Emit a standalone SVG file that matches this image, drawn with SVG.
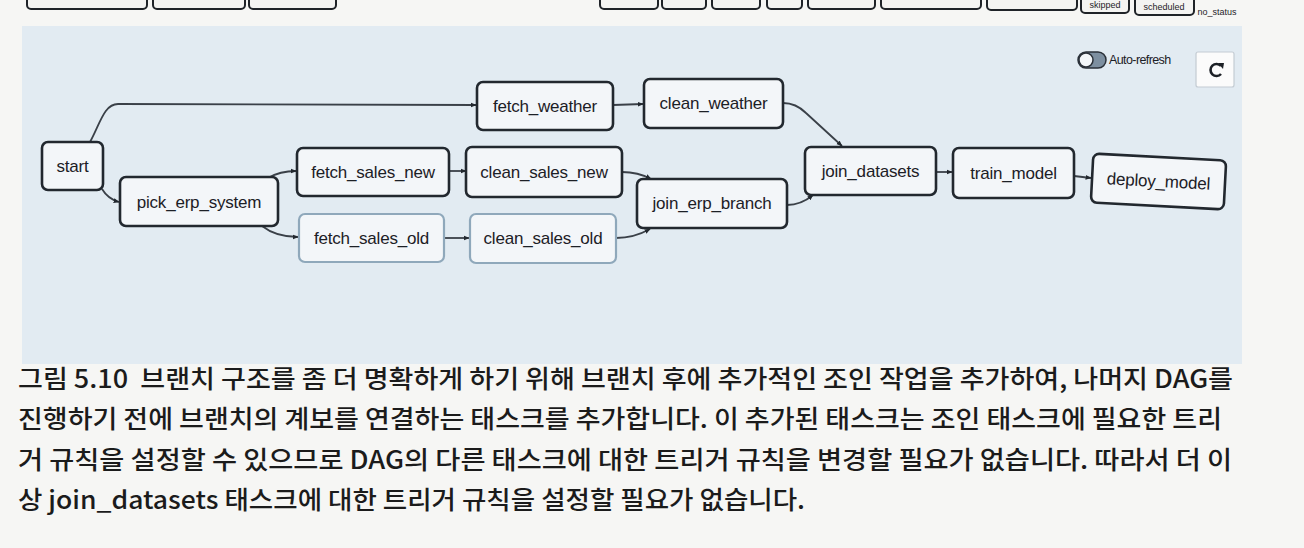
<svg xmlns="http://www.w3.org/2000/svg" width="1304" height="548" viewBox="0 0 1304 548">
  <defs>
    <style>
      .node rect { fill: #f3f6f9; stroke: #22282f; stroke-width: 2.6; }
      .node.light rect { stroke: #8fa8bb; stroke-width: 2.2; }
      .node text { font-family: "Liberation Sans", Arial, sans-serif; font-size: 17px; fill: #1c2026; text-anchor: middle; dominant-baseline: central; letter-spacing: -0.2px; }
      .edge { fill: none; stroke: #3a4048; stroke-width: 1.8; marker-end: url(#arrow); }
      .legend rect { fill: #f4f4f2; stroke: #1f2328; stroke-width: 2; }
      .legend text { font-family: "Liberation Sans", Arial, sans-serif; font-size: 9px; fill: #1f2328; text-anchor: middle; }
      .caption { font-family: "Noto Sans CJK KR", "Noto Sans", sans-serif; font-size: 25px; font-weight: 500; fill: #1b1b1b; }
    </style>
    <marker id="arrow" viewBox="0 0 10 10" refX="9" refY="5" markerWidth="6" markerHeight="6" markerUnits="userSpaceOnUse" orient="auto">
      <path d="M0,1 L10,5 L0,9 z" fill="#22282f"/>
    </marker>
  </defs>

  <rect x="0" y="0" width="1304" height="548" fill="#f6f6f4"/>

  <!-- top legend strip (cut off) -->
  <g id="legend" class="legend">
    <rect x="27" y="-12" width="120" height="21" rx="4"/>
    <rect x="153" y="-12" width="92" height="21" rx="4"/>
    <rect x="249" y="-12" width="87" height="21" rx="4"/>
    <rect x="600" y="-12" width="58" height="21" rx="4"/>
    <rect x="662" y="-12" width="44" height="21" rx="4"/>
    <rect x="712" y="-12" width="48" height="21" rx="4"/>
    <rect x="767" y="-12" width="35" height="21" rx="4"/>
    <rect x="808" y="-12" width="67" height="21" rx="4"/>
    <rect x="881" y="-12" width="100" height="21" rx="4"/>
    <rect x="987" y="-12" width="90" height="22" rx="4"/>
    <rect x="1081" y="-12" width="48" height="25" rx="4"/>
    <text x="1105" y="8">skipped</text>
    <rect x="1135" y="-12" width="59" height="27" rx="4"/>
    <text x="1164" y="10">scheduled</text>
    <text x="1217" y="15">no_status</text>
  </g>

  <!-- graph panel -->
  <rect id="panel" x="22" y="26" width="1220" height="338" fill="#e2ebf2"/>

  <!-- toolbar -->
  <g id="auto-refresh">
    <rect x="1078" y="52" width="28" height="16" rx="8" fill="#7d8fa0" stroke="#2a3038" stroke-width="1.5"/>
    <circle cx="1086" cy="60" r="7" fill="#f3f6f9" stroke="#2a3038" stroke-width="1.5"/>
    <text x="1109" y="64" font-family="Liberation Sans, Arial, sans-serif" font-size="12.5" letter-spacing="-0.6" fill="#1c2026">Auto-refresh</text>
  </g>
  <g id="refresh-button">
    <rect x="1196" y="52" width="38" height="35" rx="2" fill="#fbfbfb" stroke="#c4ccd3" stroke-width="1.2"/>
    <path d="M1221 66 A 6 6 0 1 0 1221 74" fill="none" stroke="#1c2026" stroke-width="2.6"/>
    <path d="M1218 63 L1224 63 L1223 69 z" fill="#1c2026"/>
  </g>

  <!-- connectors -->
  <g id="connectors">
    <path class="edge" d="M90 142 C 100 124, 104 104, 118 104 L 476 105"/>
    <path class="edge" d="M102 189 Q 108 199 119 202"/>
    <path class="edge" d="M268 178 Q 280 171 296 171"/>
    <path class="edge" d="M262 226 Q 276 237 298 237"/>
    <path class="edge" d="M449 171 L 466 171"/>
    <path class="edge" d="M444 238 L 469 238"/>
    <path class="edge" d="M613 105 L 643 104"/>
    <path class="edge" d="M783 103 Q 796 103 806 113 L 842 146"/>
    <path class="edge" d="M622 172 Q 638 172 651 179"/>
    <path class="edge" d="M616 238 Q 634 238 650 229"/>
    <path class="edge" d="M787 205 Q 801 205 813 195"/>
    <path class="edge" d="M936 172 L 952 172"/>
    <path class="edge" d="M1074 176 L 1091 178"/>
  </g>

  <!-- nodes -->
  <g id="start" class="node"><rect x="42" y="142" width="61" height="48" rx="6"/><text x="72.5" y="166">start</text></g>
  <g id="pick_erp_system" class="node"><rect x="120" y="177" width="158" height="49" rx="6"/><text x="199" y="202">pick_erp_system</text></g>
  <g id="fetch_sales_new" class="node"><rect x="297" y="148" width="152" height="48" rx="6"/><text x="373" y="172">fetch_sales_new</text></g>
  <g id="fetch_sales_old" class="node light"><rect x="299" y="214" width="145" height="48" rx="6"/><text x="371.5" y="238">fetch_sales_old</text></g>
  <g id="fetch_weather" class="node"><rect x="477" y="82" width="136" height="48" rx="6"/><text x="545" y="106">fetch_weather</text></g>
  <g id="clean_weather" class="node"><rect x="644" y="79" width="139" height="49" rx="6"/><text x="713.5" y="103.5">clean_weather</text></g>
  <g id="clean_sales_new" class="node"><rect x="466" y="147" width="156" height="50" rx="6"/><text x="544" y="172">clean_sales_new</text></g>
  <g id="clean_sales_old" class="node light"><rect x="470" y="214" width="146" height="49" rx="6"/><text x="543" y="238.5">clean_sales_old</text></g>
  <g id="join_erp_branch" class="node"><rect x="637" y="179" width="150" height="49" rx="6"/><text x="712" y="203.5">join_erp_branch</text></g>
  <g id="join_datasets" class="node"><rect x="805" y="147" width="131" height="48" rx="6"/><text x="870.5" y="171">join_datasets</text></g>
  <g id="train_model" class="node"><rect x="953" y="148" width="121" height="50" rx="6"/><text x="1013.5" y="173">train_model</text></g>
  <g id="deploy_model" class="node" transform="rotate(3 1158.5 181.5)"><rect x="1092" y="157" width="133" height="49" rx="6"/><text x="1158.5" y="181.5">deploy_model</text></g>

  <!-- caption -->
  <g id="caption" class="caption">
    <text x="18" y="388" textLength="1215" lengthAdjust="spacingAndGlyphs">그림 5.10&#160; 브랜치 구조를 좀 더 명확하게 하기 위해 브랜치 후에 추가적인 조인 작업을 추가하여, 나머지 DAG를</text>
    <text x="18" y="428" textLength="1204" lengthAdjust="spacingAndGlyphs">진행하기 전에 브랜치의 계보를 연결하는 태스크를 추가합니다. 이 추가된 태스크는 조인 태스크에 필요한 트리</text>
    <text x="18" y="469" textLength="1214" lengthAdjust="spacingAndGlyphs">거 규칙을 설정할 수 있으므로 DAG의 다른 태스크에 대한 트리거 규칙을 변경할 필요가 없습니다. 따라서 더 이</text>
    <text x="18" y="509" textLength="787" lengthAdjust="spacingAndGlyphs">상 join_datasets 태스크에 대한 트리거 규칙을 설정할 필요가 없습니다.</text>
  </g>
</svg>
